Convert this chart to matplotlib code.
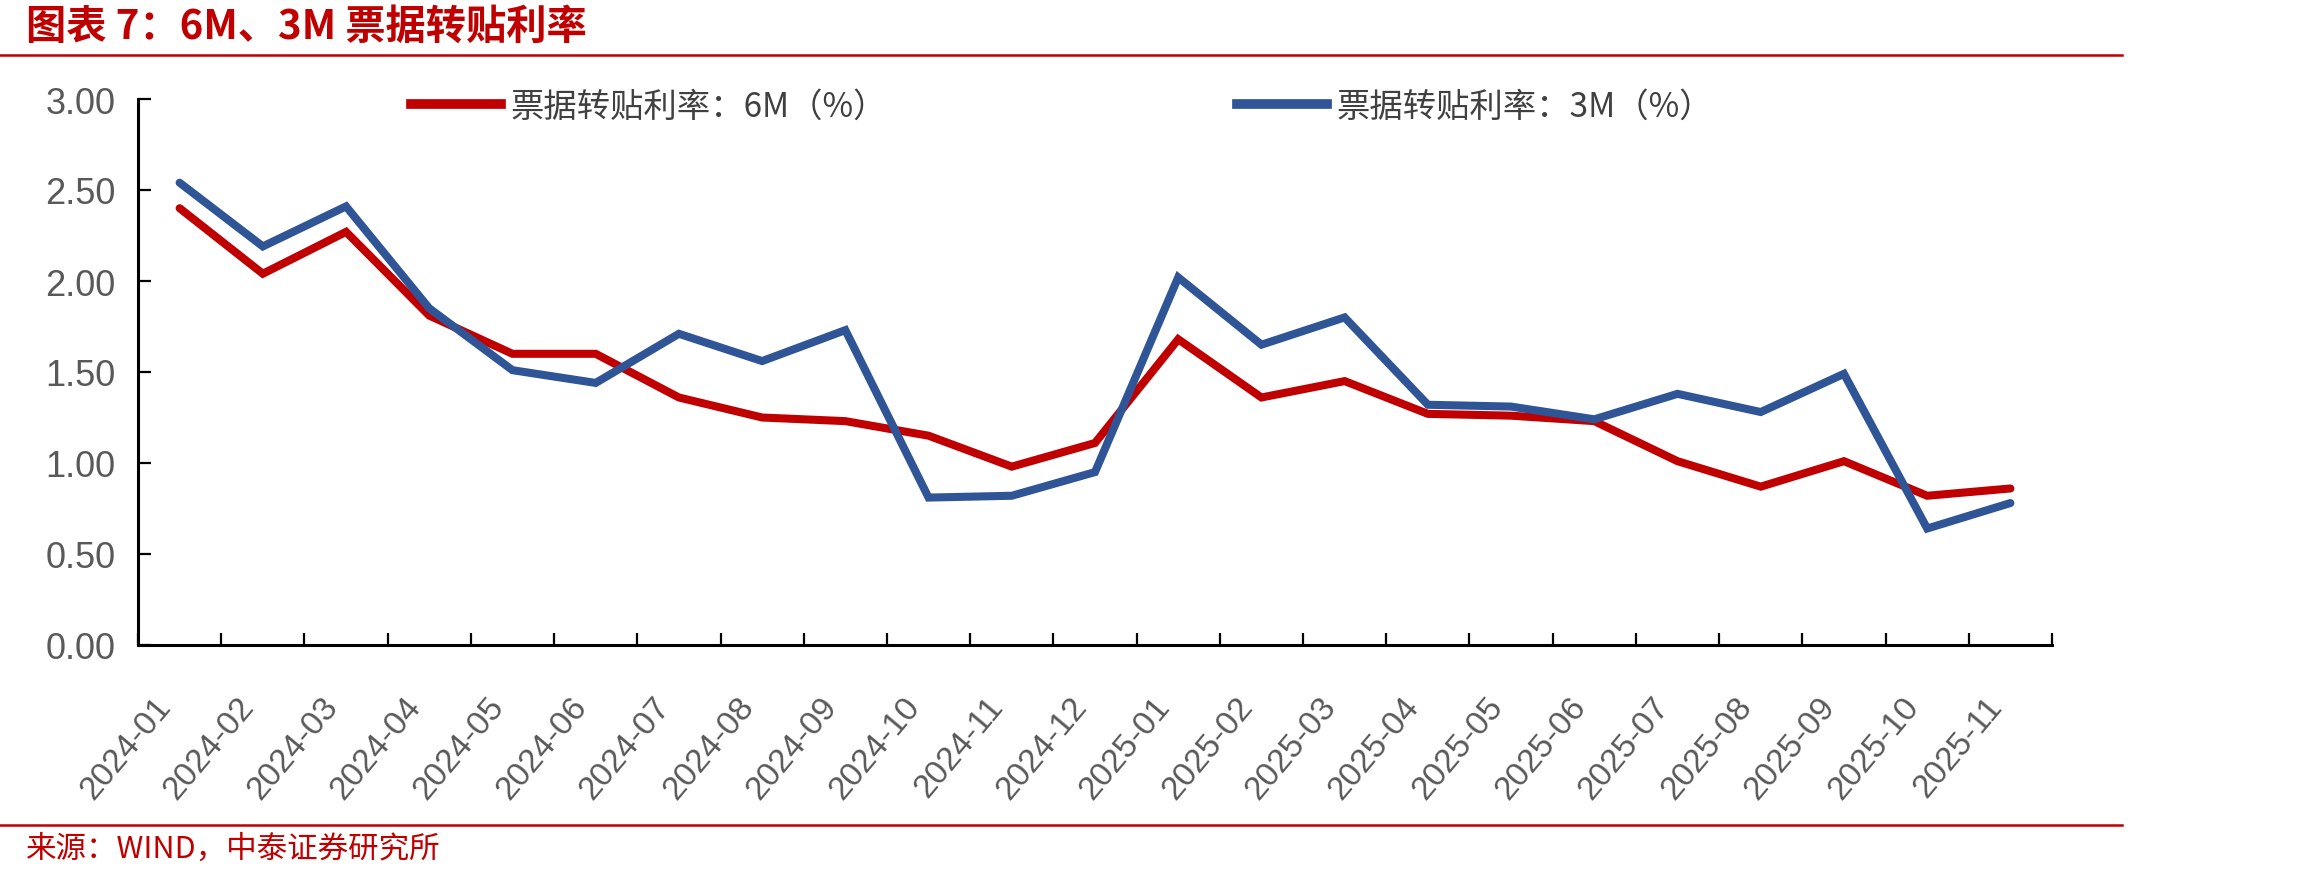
import matplotlib
matplotlib.use('Agg')
import matplotlib.pyplot as plt
import matplotlib.transforms as mtransforms
from matplotlib.lines import Line2D
import numpy as np

plt.rcParams['font.family'] = ['Noto Sans CJK SC', 'DejaVu Sans']

# months on the x axis
months = ['2024-01', '2024-02', '2024-03', '2024-04', '2024-05', '2024-06',
          '2024-07', '2024-08', '2024-09', '2024-10', '2024-11', '2024-12',
          '2025-01', '2025-02', '2025-03', '2025-04', '2025-05', '2025-06',
          '2025-07', '2025-08', '2025-09', '2025-10', '2025-11']
# 票据转贴利率 6M (%)
rate_6m = [2.40, 2.04, 2.27, 1.81, 1.60, 1.60, 1.36, 1.25, 1.23, 1.15, 0.98, 1.11,
           1.68, 1.36, 1.45, 1.27, 1.26, 1.23, 1.01, 0.87, 1.01, 0.82, 0.86]
# 票据转贴利率 3M (%)
rate_3m = [2.54, 2.19, 2.41, 1.85, 1.51, 1.44, 1.71, 1.56, 1.73, 0.81, 0.82, 0.95,
           2.02, 1.65, 1.80, 1.32, 1.31, 1.24, 1.38, 1.28, 1.49, 0.64, 0.78]
yticks = [0.0, 0.5, 1.0, 1.5, 2.0, 2.5, 3.0]
labels = ['票据转贴利率：6M（%）', '票据转贴利率：3M（%）']
title = '图表 7：6M、3M 票据转贴利率'
source = '来源：WIND，中泰证券研究所'

red = '#C00000'
blue = '#2F5597'
grey = '#595959'

W, H = 2302, 879
fig = plt.figure(figsize=(W / 100, H / 100), dpi=100)
ax = fig.add_axes([138 / W, 1 - 646 / H, (2052 - 138) / W, (646 - 100) / H])

x = np.arange(len(months))
ax.plot(x, rate_6m, color=red, lw=5.8, solid_joinstyle='miter', solid_capstyle='round')
ax.plot(x, rate_3m, color=blue, lw=5.8, solid_joinstyle='miter', solid_capstyle='round')

ax.set_xlim(-0.5, len(months) - 0.5)
ax.set_ylim(0, 3)

for s in ['top', 'right']:
    ax.spines[s].set_visible(False)
for s in ['left', 'bottom']:
    ax.spines[s].set_linewidth(2.2)
    ax.spines[s].set_color('black')

ax.set_yticks(yticks)
ax.set_yticklabels(['%.2f' % v for v in yticks])
ax.tick_params(axis='y', direction='in', length=9, width=1.6, pad=16,
               labelsize=26, labelcolor=grey)
for t in ax.get_yticklabels():
    t.set_family('Liberation Sans')

# category boundaries as ticks, labels in the middle
ax.set_xticks(np.arange(-0.5, len(months), 1.0))
ax.set_xticklabels([])
ax.set_xticks(x, minor=True)
ax.set_xticklabels(months, minor=True)
ax.tick_params(axis='x', which='major', direction='in', length=9, width=1.6)
ax.tick_params(axis='x', which='minor', length=0, pad=40, labelsize=24, labelcolor=grey)
offset = mtransforms.ScaledTranslation(-14 / 100, 0, fig.dpi_scale_trans)
for t in ax.get_xticklabels(minor=True):
    t.set_rotation(50)
    t.set_ha('right')
    t.set_va('center')
    t.set_rotation_mode('anchor')
    t.set_family('Liberation Sans')
    t.set_transform(t.get_transform() + offset)

# legends
h1 = Line2D([], [], color=red, lw=7)
h2 = Line2D([], [], color=blue, lw=7)
for h, lab, x0 in [(h1, labels[0], 411), (h2, labels[1], 1237)]:
    fig.legend([h], [lab], loc='center left', bbox_to_anchor=(x0 / W, 1 - 107 / H),
               frameon=False, borderpad=0, borderaxespad=0, handlelength=2.7,
               handletextpad=0.3, prop={'size': 24}, labelcolor='#404040')

# title, rules and source
fig.text(26 / W, 1 - 27 / H, title, color=red, fontsize=29, fontweight='bold',
         va='center', ha='left')
fig.add_artist(Line2D([0, 2122 / W], [1 - 56 / H, 1 - 56 / H], color=red, lw=1.8))
fig.add_artist(Line2D([0, 2122 / W], [1 - 826 / H, 1 - 826 / H], color=red, lw=1.8))
fig.text(26 / W, 1 - 849 / H, source, color=red, fontsize=22, va='center', ha='left')

fig.savefig('out.png', dpi=100)
